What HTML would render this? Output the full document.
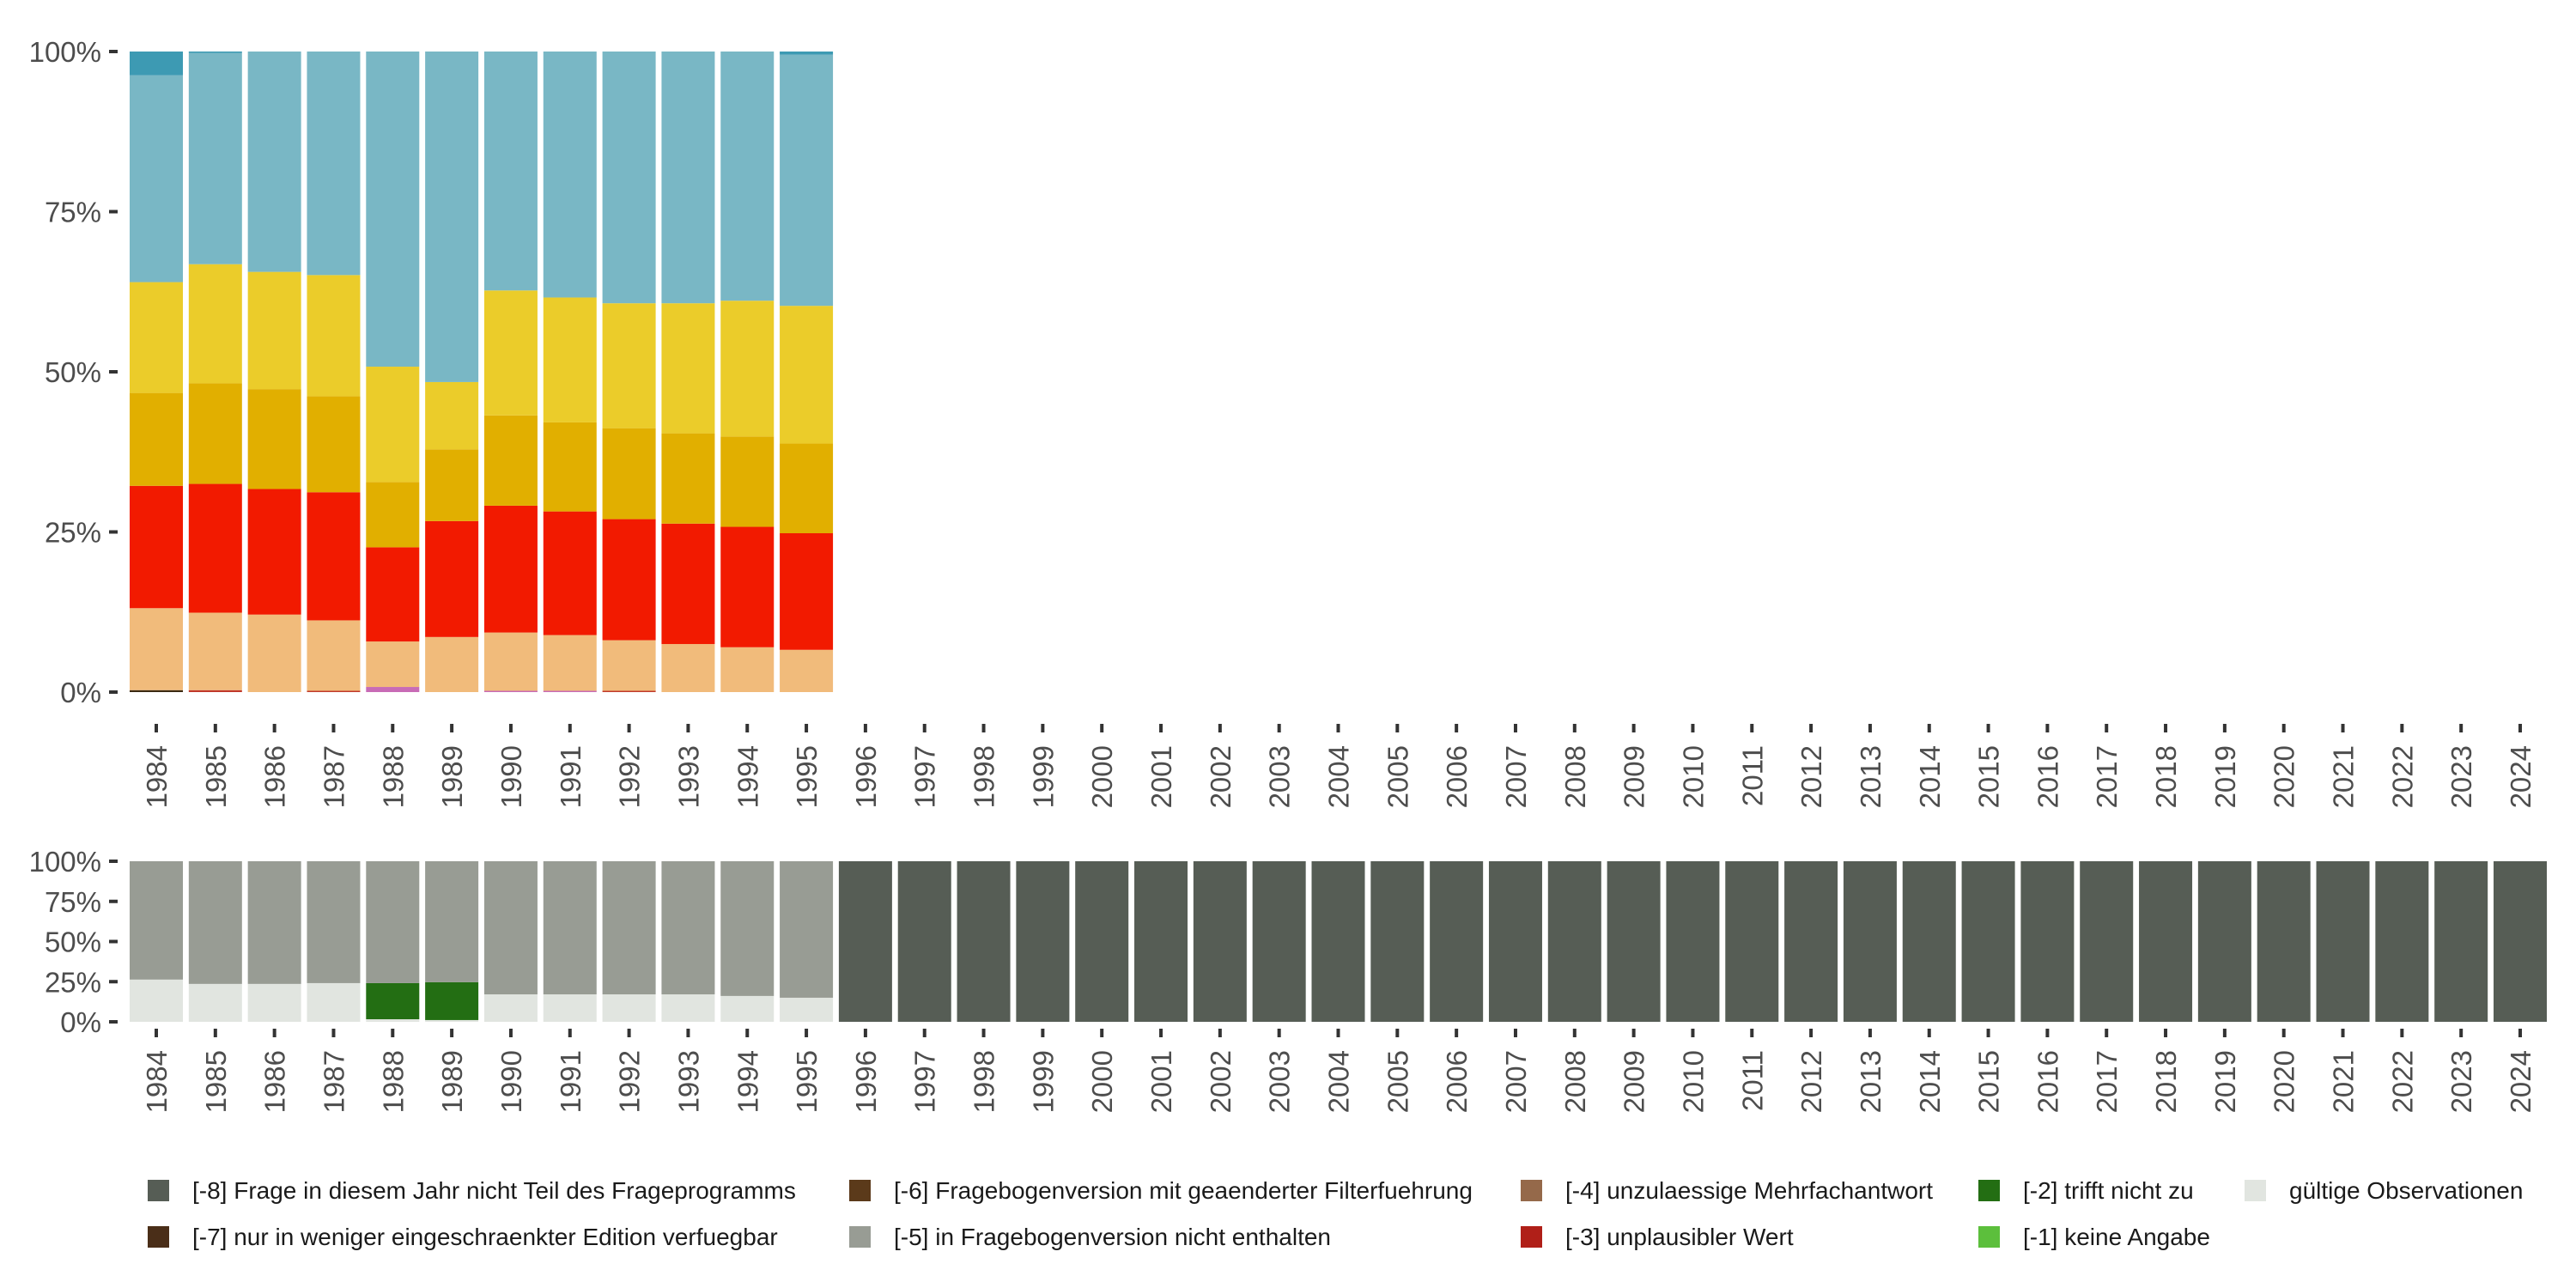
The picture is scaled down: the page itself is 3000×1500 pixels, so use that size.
<!DOCTYPE html>
<html><head><meta charset="utf-8"><style>
html,body{margin:0;padding:0;background:#fff;}
svg{display:block;font-family:"Liberation Sans",sans-serif;}
</style></head><body>
<svg id="chart" width="3000" height="1500" viewBox="0 0 3000 1500" xmlns="http://www.w3.org/2000/svg"></svg>
<script>
const years = [];
for (let y = 1984; y <= 2024; y++) years.push(String(y));
const topYears = ["1984","1985","1986","1987","1988","1989","1990","1991","1992","1993","1994","1995"];
// top panel segments (percent), bottom to top
const topDark   = [0.3,0,0,0,0,0,0,0,0,0,0,0];
const topDarkRed= [0,0.3,0,0.2,0,0,0,0,0.2,0,0,0];
const topPink   = [0,0,0,0,0.8,0,0.2,0.2,0,0,0,0];
const topPeach  = [12.8,12.1,12.1,11.0,7.1,8.6,9.1,8.7,7.9,7.5,7.0,6.6];
const topRed    = [19.1,20.1,19.6,20.0,14.7,18.1,19.8,19.3,18.9,18.8,18.8,18.2];
const topDYellow= [14.5,15.7,15.6,15.0,10.2,11.2,14.1,13.9,14.2,14.1,14.1,14.0];
const topYellow = [17.3,18.6,18.3,18.9,18.0,10.5,19.5,19.5,19.5,20.3,21.2,21.5];
const topTeal   = [3.7,0.2,0,0,0,0,0,0,0,0,0,0.5];
const topTicks = ["0%","25%","50%","75%","100%"];
// bottom panel
const botValid = [26.3,23.6,23.6,24.1,1.6,1.1,17.1,17.1,17.1,17.1,16.1,15.0];
const botGreen = [0,0,0,0,22.5,23.6,0,0,0,0,0,0];
const botNotAsked = [];
for (let i = 0; i < years.length; i++) botNotAsked.push(i >= 12 ? 100 : 0);
const legendLabels = [
 ["[-8] Frage in diesem Jahr nicht Teil des Frageprogramms","#565d55"],
 ["[-7] nur in weniger eingeschraenkter Edition verfuegbar","#4a2e18"],
 ["[-6] Fragebogenversion mit geaenderter Filterfuehrung","#5b3a1a"],
 ["[-5] in Fragebogenversion nicht enthalten","#989c94"],
 ["[-4] unzulaessige Mehrfachantwort","#95694a"],
 ["[-3] unplausibler Wert","#b01f18"],
 ["[-2] trifft nicht zu","#236e13"],
 ["[-1] keine Angabe","#5cbf3c"],
 ["gültige Observationen","#e1e5e0"]
];

const NS = "http://www.w3.org/2000/svg";
const svg = document.getElementById("chart");
function mk(tag, attrs, parent) {
  const e = document.createElementNS(NS, tag);
  for (const k in attrs) e.setAttribute(k, attrs[k]);
  (parent || svg).appendChild(e);
  return e;
}
const step = (2935 - 182) / 40;
const bw = 62;
function xCenter(i) { return 182 + i * step; }
function yTop(v) { return 806 - v / 100 * 746; }
function yBot(v) { return 1190 - v / 100 * 187; }

const topSeries = [
 [topDark,"#3b2a12","dark"],[topDarkRed,"#c0392b","dark-red"],[topPink,"#c86bb6","pink"],
 [topPeach,"#f1bb7b","peach"],[topRed,"#f21a00","red"],[topDYellow,"#e1af00","dark-yellow"],
 [topYellow,"#ebcc2a","yellow"],[null,"#79b7c5","light-blue"],[topTeal,"#3d9ab3","teal"]
];
for (let i = 0; i < topYears.length; i++) {
  let others = 0;
  topSeries.forEach(s => { if (s[0]) others += s[0][i]; });
  let cum = 0;
  topSeries.forEach(s => {
    const v = s[0] ? s[0][i] : 100 - others;
    if (v <= 0) return;
    const r = mk("rect", {x: xCenter(i) - bw/2, y: yTop(cum + v), width: bw, height: yTop(cum) - yTop(cum + v), fill: s[1]});
    
    
    cum += v;
  });
}
topTicks.forEach((t, k) => {
  const y = yTop(k * 25);
  const tk = mk("line", {x1: 127, x2: 137, y1: y, y2: y, stroke: "#333", "stroke-width": 4});
  
  
  const tx = mk("text", {x: 118, y: y + 12, "text-anchor": "end", "font-size": 33, fill: "#4d4d4d"});
  tx.textContent = t;
  
  
});
for (let i = 0; i < years.length; i++) {
  const segs = [[i < 12 ? botValid[i] : 0,"#e1e5e0","valid"],[i < 12 ? botGreen[i] : 0,"#236e13","green"]];
  let cum = 0;
  segs.forEach(s => {
    if (s[0] <= 0) return;
    const r = mk("rect", {x: xCenter(i) - bw/2, y: yBot(cum + s[0]), width: bw, height: yBot(cum) - yBot(cum + s[0]), fill: s[1]});
    
    
    cum += s[0];
  });
  if (botNotAsked[i] > 0) {
    const r = mk("rect", {x: xCenter(i) - bw/2, y: yBot(botNotAsked[i]), width: bw, height: yBot(0) - yBot(botNotAsked[i]), fill: "#565d55"});
    
    
  } else if (i < 12) {
    const r = mk("rect", {x: xCenter(i) - bw/2, y: yBot(100), width: bw, height: yBot(cum) - yBot(100), fill: "#989c94"});
    
    
  }
}
topTicks.forEach((t, k) => {
  const y = yBot(k * 25);
  const tk = mk("line", {x1: 127, x2: 137, y1: y, y2: y, stroke: "#333", "stroke-width": 4});
  
  
  const tx = mk("text", {x: 118, y: y + 12, "text-anchor": "end", "font-size": 33, fill: "#4d4d4d"});
  tx.textContent = t;
  
  
});
[[843, 868], [1198, 1223]].forEach((p, pi) => {
  years.forEach((yr, i) => {
    const x = xCenter(i);
    const tk = mk("line", {x1: x, x2: x, y1: p[0], y2: p[0] + 10, stroke: "#333", "stroke-width": 4});
    
    
    const tx = mk("text", {x: 0, y: 0, "text-anchor": "end", "font-size": 33, fill: "#4d4d4d",
      transform: "translate(" + (x + 12) + "," + p[1] + ") rotate(-90)"});
    tx.textContent = yr;
    
    
  });
});
const colX = [172, 989, 1771, 2304, 2614];
legendLabels.forEach((l, k) => {
  const col = Math.floor(k / 2), row = k % 2;
  const x = colX[col], y = row ? 1428 : 1374;
  const r = mk("rect", {x: x, y: y, width: 25, height: 25, fill: l[1]});
  
  
  const tx = mk("text", {x: x + 52, y: y + 22, "font-size": 28, fill: "#1a1a1a"});
  tx.textContent = l[0];
  
  
});
</script>
</body></html>
